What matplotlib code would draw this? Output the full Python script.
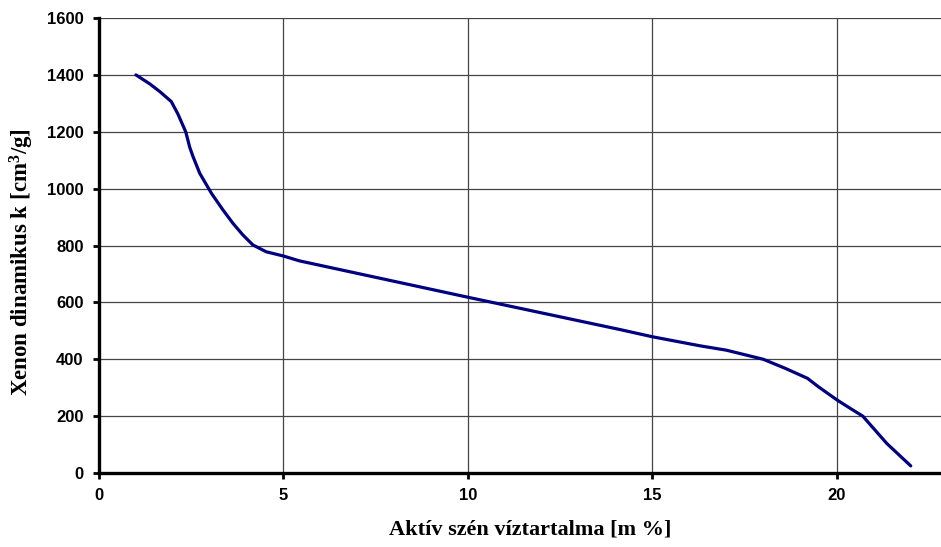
import matplotlib
matplotlib.use("Agg")
import matplotlib.pyplot as plt
from matplotlib.ticker import MultipleLocator

# adatok
water = [1.0, 1.38, 1.65, 1.96, 2.14, 2.35, 2.46, 2.55, 2.73, 3.05,
         3.36, 3.63, 3.9, 4.17, 4.35, 4.53, 5.0, 5.43, 10.0, 14.1, 15.0,
         16.3, 17.0, 18.0, 18.6, 19.2, 19.5, 20.0, 20.4, 20.7, 21.35, 22.0]
k_dyn = [1400, 1368, 1341, 1306, 1262, 1200, 1145, 1112, 1054, 983,
         925, 878, 837, 802, 790, 778, 763, 746, 618, 505, 479,
         447, 432, 400, 368, 333, 303, 257, 224, 200, 104, 25]

xlabel = "Aktív szén víztartalma [m %]"
ylabel = "Xenon dinamikus k [cm$^{3}$/g]"

plt.rcParams["mathtext.fontset"] = "custom"
plt.rcParams["mathtext.rm"] = "Liberation Serif:bold"
plt.rcParams["mathtext.it"] = "Liberation Serif:bold"

fig = plt.figure(figsize=(9.41, 5.47), dpi=100)
ax = fig.add_axes([99 / 941, 74 / 547, 1 - 99 / 941, (473 - 18) / 547])

ax.plot(water, k_dyn, color="#000080", linewidth=2.3,
        solid_capstyle="round", solid_joinstyle="round")

ax.set_xlim(0, 22.82)
ax.set_ylim(0, 1600)
ax.xaxis.set_major_locator(MultipleLocator(5))
ax.yaxis.set_major_locator(MultipleLocator(200))
ax.grid(True, color="#444444", linewidth=0.9)
ax.set_axisbelow(True)

for side in ["top", "right"]:
    ax.spines[side].set_visible(False)
for side in ["left", "bottom"]:
    ax.spines[side].set_linewidth(2.4)
    ax.spines[side].set_color("black")

ax.tick_params(axis="both", direction="out", length=4, width=2,
               labelsize=12, pad=7)
for lab in ax.get_xticklabels() + ax.get_yticklabels():
    lab.set_fontfamily("Liberation Sans")
    lab.set_fontweight("bold")

ax.set_xlabel(xlabel, fontfamily="Liberation Serif", fontweight="bold",
              fontsize=16, labelpad=12)
ax.set_ylabel(ylabel, fontfamily="Liberation Serif", fontweight="bold",
              fontsize=16.5, labelpad=8)
ax.xaxis.label.set_x(0.512)
ax.yaxis.label.set_y(0.464)

fig.savefig("out.png", dpi=100)
